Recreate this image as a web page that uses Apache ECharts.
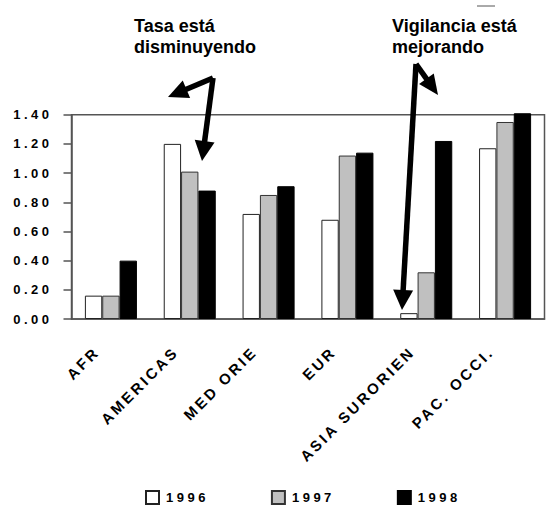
<!DOCTYPE html>
<html>
<head>
<meta charset="utf-8">
<script src="https://cdn.jsdelivr.net/npm/echarts@6/dist/echarts.min.js"></script>
<style>
  html, body { margin: 0; padding: 0; background: #fff; }
  #chart { width: 546px; height: 515px; }
  /* spaced-out lettering for axis and legend text, keyed on font size */
  #chart text[style*="13px"] { letter-spacing: 3.5px; }
  #chart text[style*="15px"] { letter-spacing: 2.8px; }
</style>
</head>
<body>
<div id="chart"></div>
<script>
// Regions and yearly rates
const regions = ['AFR', 'AMERICAS', 'MED ORIE', 'EUR', 'ASIA SURORIEN', 'PAC. OCCI.'];
const years = ['1996', '1997', '1998'];
const rate1996 = [0.16, 1.20, 0.72, 0.68, 0.04, 1.17];
const rate1997 = [0.16, 1.01, 0.85, 1.12, 0.32, 1.35];
const rate1998 = [0.40, 0.88, 0.91, 1.14, 1.22, 1.41];
const yTickValues = [0, 0.2, 0.4, 0.6, 0.8, 1.0, 1.2, 1.4];

const FONT = '"Liberation Sans", Arial, sans-serif';
const AXIS_GRAY = '#555';

const chart = echarts.init(document.getElementById('chart'), null, { renderer: 'svg' });

function barSeries(name, data, fill, border) {
  return {
    name: name,
    type: 'bar',
    data: data,
    clip: false,
    barGap: '0%',
    barCategoryGap: '34%',
    itemStyle: { color: fill, borderColor: border, borderWidth: 1 },
    emphasis: { disabled: true }
  };
}

// Bent arrow: shaft from (x0,y0) to tip (x1,y1) with a filled triangular head
function arrow(x0, y0, x1, y1, headLen, headHalf, width) {
  const dx = x1 - x0, dy = y1 - y0;
  const len = Math.sqrt(dx * dx + dy * dy);
  const ux = dx / len, uy = dy / len;
  const bx = x1 - ux * headLen, by = y1 - uy * headLen;
  const px = -uy * headHalf, py = ux * headHalf;
  return [
    {
      type: 'line',
      shape: { x1: x0, y1: y0, x2: bx + ux * 2, y2: by + uy * 2 },
      style: { stroke: '#000', lineWidth: width, lineCap: 'butt' },
      z: 100
    },
    {
      type: 'polygon',
      shape: { points: [[bx + px, by + py], [x1, y1], [bx - px, by - py]] },
      style: { fill: '#000' },
      z: 100
    }
  ];
}

const option = {
  animation: false,
  backgroundColor: '#fff',
  textStyle: { fontFamily: FONT },
  grid: {
    left: 71.5, right: 1.5, top: 114.7, bottom: 196,
    show: true, borderColor: AXIS_GRAY, borderWidth: 1.5, backgroundColor: 'transparent'
  },
  legend: {
    data: years,
    left: 140,
    top: 485,
    itemWidth: 13,
    itemHeight: 13,
    itemGap: 76,
    icon: 'rect',
    selectedMode: false,
    textStyle: { fontFamily: FONT, fontSize: 13, fontWeight: 'bold', color: '#000', padding: [0, 0, 0, 2] }
  },
  xAxis: {
    type: 'category',
    data: regions,
    axisLine: { lineStyle: { color: AXIS_GRAY, width: 1.5 } },
    axisTick: { length: 6, lineStyle: { color: AXIS_GRAY, width: 1.5 } },
    axisLabel: {
      interval: 0,
      rotate: 45,
      margin: 16,
      padding: [0, 20, 0, 0],
      fontFamily: FONT,
      fontSize: 15,
      fontWeight: 'bold',
      color: '#000'
    }
  },
  yAxis: {
    type: 'value',
    min: 0,
    max: 1.4,
    interval: 0.2,
    splitLine: { show: false },
    axisLine: { show: true, lineStyle: { color: AXIS_GRAY, width: 1.5 } },
    axisTick: { show: true, length: 8, lineStyle: { color: AXIS_GRAY, width: 1.5 } },
    axisLabel: {
      margin: 19,
      fontFamily: FONT,
      fontSize: 13,
      fontWeight: 'bold',
      color: '#000',
      customValues: yTickValues,
      formatter: v => v.toFixed(2)
    }
  },
  series: [
    barSeries(years[0], rate1996, '#ffffff', '#222'),
    barSeries(years[1], rate1997, '#c0c0c0', '#333'),
    barSeries(years[2], rate1998, '#000000', '#000')
  ],
  graphic: [
    {
      type: 'text',
      left: 134, top: 15,
      style: {
        text: 'Tasa está\ndisminuyendo',
        font: 'bold 18px ' + FONT,
        lineHeight: 21,
        fill: '#000'
      },
      z: 100
    },
    {
      type: 'text',
      left: 392, top: 15,
      style: {
        text: 'Vigilancia está\nmejorando',
        font: 'bold 18px ' + FONT,
        lineHeight: 21,
        fill: '#000'
      },
      z: 100
    },
    {
      type: 'line',
      shape: { x1: 477, y1: 6, x2: 495, y2: 6 },
      style: { stroke: AXIS_GRAY, lineWidth: 1 }
    },
    ...arrow(213, 78, 202, 161, 20, 10, 5.5),
    ...arrow(213, 78, 168, 97, 20, 9.5, 5.5),
    ...arrow(416, 64, 402, 310, 20, 10, 5.5),
    ...arrow(416, 64, 438, 95, 20, 9, 5.5)
  ]
};

chart.setOption(option);
</script>
</body>
</html>
